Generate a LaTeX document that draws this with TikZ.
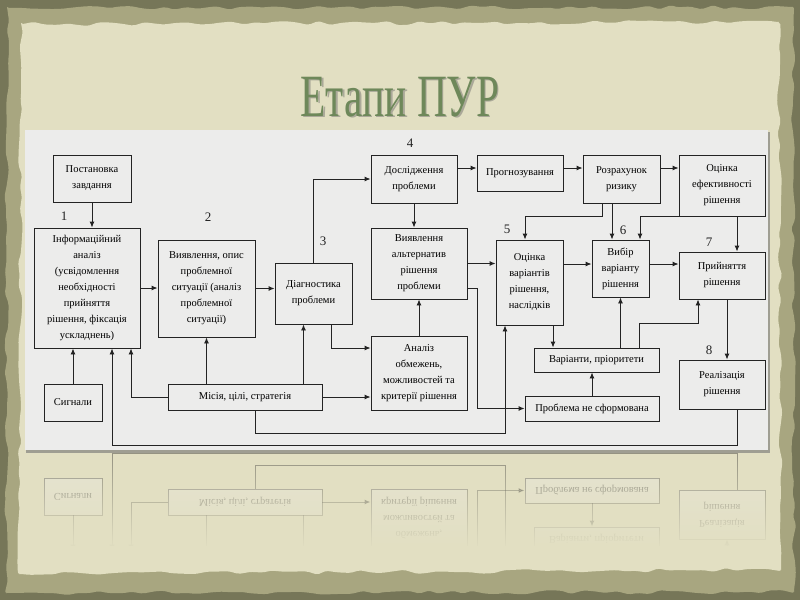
\documentclass[tikz,border=0pt]{standalone}
\usepackage{fontspec}
\setmainfont{Liberation Serif}
\usetikzlibrary{arrows.meta,calc,decorations.pathmorphing,fadings}

\definecolor{frame}{RGB}{118,118,88}
\definecolor{paperedge}{RGB}{168,166,128}
\definecolor{paper}{RGB}{226,223,194}
\definecolor{panel}{RGB}{236,236,235}
\definecolor{titlegreen}{RGB}{110,136,90}
\definecolor{ink}{RGB}{35,35,35}

\newcommand\boxfont{\fontsize{10.5}{16}\selectfont}
\newcommand\up[1]{#1}

% the whole scheme, drawn twice (picture and its reflection)
\newcommand\drawstages{%
\node[block,minimum width=78,minimum height=47] (n0) at (92,178.5) {\up{Постановка\\завдання}};
\node[block,minimum width=106,minimum height=120] (n1) at (87,288) {\up{Інформаційний\\аналіз\\(усвідомлення\\необхідності\\прийняття\\рішення, фіксація\\ускладнень)}};
\node[block,minimum width=97,minimum height=97] (n2) at (206.5,288.5) {\up{Виявлення, опис\\проблемної\\ситуації (аналіз\\проблемної\\ситуації)}};
\node[block,minimum width=77,minimum height=61] (n3) at (313.5,293.5) {\up{Діагностика\\проблеми}};
\node[block,minimum width=86,minimum height=48] (n4) at (414,179) {\up{Дослідження\\проблеми}};
\node[block,minimum width=86,minimum height=36] (n5) at (520,173) {\up{Прогнозування}};
\node[block,minimum width=77,minimum height=48] (n6) at (621.5,179) {\up{Розрахунок\\ризику}};
\node[block,minimum width=86,minimum height=61] (n7) at (722,185.5) {\up{Оцінка\\ефективності\\рішення}};
\node[block,minimum width=96,minimum height=71] (n8) at (419,263.5) {\up{Виявлення\\альтернатив\\рішення\\проблеми}};
\node[block,minimum width=67,minimum height=85] (n9) at (529.5,282.5) {\up{Оцінка\\варіантів\\рішення,\\наслідків}};
\node[block,minimum width=57,minimum height=57] (n10) at (620.5,268.5) {\up{Вибір\\варіанту\\рішення}};
\node[block,minimum width=86,minimum height=47] (n11) at (722,275.5) {\up{Прийняття\\рішення}};
\node[block,minimum width=96,minimum height=74] (n12) at (419,373) {Аналіз\\обмежень,\\можливостей та\\критерії рішення};
\node[block,minimum width=125,minimum height=24] (n13) at (596.5,360) {Варіанти, пріоритети};
\node[block,minimum width=86,minimum height=49] (n14) at (722,384.5) {Реалізація\\рішення};
\node[block,minimum width=58,minimum height=37] (n15) at (73,402.5) {Сигнали};
\node[block,minimum width=154,minimum height=26] (n16) at (245,397) {Місія, цілі, стратегія};
\node[block,minimum width=134,minimum height=25] (n17) at (592,408.5) {Проблема не сформована};
% stage numbers
\node[num] (k1) at (64,216) {\up{1}};
\node[num] (k2) at (208,217) {\up{2}};
\node[num] (k3) at (323,241) {\up{3}};
\node[num] (k4) at (410,143) {\up{4}};
\node[num] (k5) at (507,229) {\up{5}};
\node[num] (k6) at (623,230) {\up{6}};
\node[num] (k7) at (709,242) {\up{7}};
\node[num] (k8) at (709,350) {\up{8}};
% connectors
\coordinate (r1) at (0,168);
\coordinate (r2) at (0,264);
\draw[arrow] (n0.south) -- (n0.south |- n1.north);
\draw[arrow] (n1.east) -- (n1.east -| n2.west);
\draw[arrow] (n2.east) -- (n2.east -| n3.west);
\draw[arrow] (n3.north) |- (n4.west);
\draw[arrow] ($(n3.south)+(18,0)$) |- ($(n12.west)+(0,-25)$);
\draw[arrow] (n2.south |- n16.north) -- (n2.south);
\draw[arrow] ($(n3.south|-n16.north)+(-10,0)$) -- ($(n3.south)+(-10,0)$);
\draw[arrow] (n16.west) -| ($(n1.south)+(44,0)$);
\draw[arrow] (n16.east) -- (n16.east -| n12.west);
\draw[arrow] ($(n16.south)+(10,0)$) -- ++(0,23) -| ($(n9.south)+(-24.5,0)$);
\draw[arrow] (n15.north) -- (n15.north |- n1.south);
\draw[arrow] ($(n14.south)+(15,0)$) -- ++(0,36) -| ($(n1.south)+(25,0)$);
\draw[arrow] (n4.south) -- (n4.south |- n8.north);
\draw[arrow] (n4.east |- r1) -- (n5.west |- r1);
\draw[arrow] (n5.east |- r1) -- (n6.west |- r1);
\draw[arrow] (n6.east |- r1) -- (n7.west |- r1);
\draw[arrow] ($(n6.south)+(-19.5,0)$) -- ++(0,13) -| ($(n9.north)+(-4.5,0)$);
\draw[arrow] ($(n6.south)+(-9.5,0)$) -- ($(n6.south|-n10.north)+(-9.5,0)$);
\draw[arrow] (n7.south west) -| ($(n10.north)+(19.5,0)$);
\draw[arrow] ($(n7.south)+(15,0)$) -- ($(n7.south|-n11.north)+(15,0)$);
\draw[arrow] (n8.east) -- (n8.east -| n9.west);
\draw[arrow] ($(n8.east)+(0,24.5)$) -- ++(10,0) |- (n17.west);
\draw[arrow] (n12.north) -- (n8.south);
\draw[arrow] (n9.east |- r2) -- (n10.west |- r2);
\draw[arrow] (n10.east |- r2) -- (n11.west |- r2);
\draw[arrow] ($(n9.south)+(23.5,0)$) -- ($(n9.south|-n13.north)+(23.5,0)$);
\draw[arrow] (n10.south |- n13.north) -- (n10.south);
\draw[arrow] ($(n13.north)+(42.5,0)$) -- ++(0,-24) -| ($(n11.south)+(-24,0)$);
\draw[arrow] (n17.north) -- (n17.north |- n13.south);
\draw[arrow] ($(n11.south)+(5,0)$) -- ($(n11.south|-n14.north)+(5,0)$);
}

\begin{document}
\begin{tikzpicture}[x=1pt,y=-1pt,
  block/.style={draw=ink,fill=panel,line width=0.9pt,align=center,inner sep=1pt,font=\boxfont},
  num/.style={font=\fontsize{13}{13}\selectfont,text=ink},
  arrow/.style={-{Latex[length=6pt,width=5pt]},line width=0.9pt,draw=ink},
  torn/.style={decorate,decoration={random steps,segment length=11pt,amplitude=2.2pt},rounded corners=2pt}]
\useasboundingbox (0,0) rectangle (800,600);
% old paper background
\fill[frame] (0,0) rectangle (800,600);
\pgfmathsetseed{11}
\fill[paperedge,torn] (7,8) -- (793,7) -- (794,592) -- (6,593) -- cycle;
\fill[paper,torn] (21,24) -- (779,22) -- (781,570) -- (19,574) -- cycle;
% title
\node[font=\fontsize{60}{60}\selectfont,text=black!60,opacity=.45] (t0s) at (401.5,98.5) {\scalebox{0.69}[1]{Етапи ПУР}};
\node[font=\fontsize{60}{60}\selectfont,text=titlegreen] (t0) at (400,97) {\scalebox{0.69}[1]{Етапи ПУР}};
% panel
\fill[black!55,opacity=.6] (26,132) rectangle (770,453);
\fill[panel] (25,130) rectangle (768,449.5);
\drawstages
% reflection
\begin{scope}
\renewcommand\up[1]{}
\clip (25,453) rectangle (770,545);
\begin{scope}[shift={(0,899)},yscale=-1,transform shape,opacity=.4]
\drawstages
\end{scope}
\end{scope}
\fill[paper,path fading=north] (24,453) rectangle (771,548);
\end{tikzpicture}
\end{document}
